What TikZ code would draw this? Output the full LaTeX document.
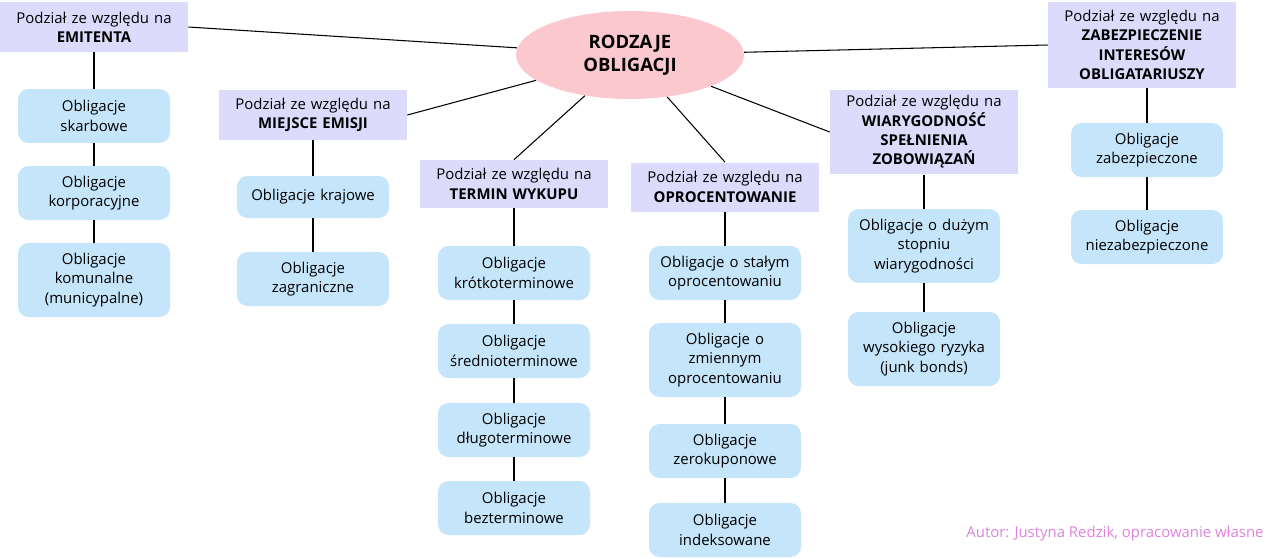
\documentclass[tikz,border=0pt]{standalone}
\usepackage{fontspec}
\setmainfont{Open Sans}
\usetikzlibrary{positioning,shapes.geometric}
\definecolor{headlav}{RGB}{221,219,252}
\definecolor{childblue}{RGB}{197,229,250}
\definecolor{rootpink}{RGB}{251,200,206}
\definecolor{authorpink}{RGB}{222,130,222}
\tikzset{
  head/.style={fill=headlav, minimum width=3.76cm, text width=3.6cm, align=center, inner sep=2pt, font=\fontsize{8.5}{11}\selectfont},
  child/.style={fill=childblue, rounded corners=6pt, minimum width=3.04cm, text width=2.9cm, align=center, inner sep=2pt, font=\fontsize{8.5}{11}\selectfont},
  link/.style={line width=0.6pt}
}
\begin{document}
\begin{tikzpicture}[x=0.02cm, y=-0.02cm]
\useasboundingbox (0,0) rectangle (1280,558);
\node (root) [ellipse, fill=rootpink, minimum width=4.56cm, minimum height=1.76cm, align=center, font=\bfseries\fontsize{10.5}{13}\selectfont] at (630,55) {RODZAJE\\OBLIGACJI};
% naglowki
\node (emi) [head, minimum height=1cm] at (94,27) {Podział ze względu na\\\textbf{EMITENTA}};
\node (mie) [head, minimum height=1cm] at (313,115) {Podział ze względu na\\\textbf{MIEJSCE EMISJI}};
\node (ter) [head, minimum height=0.96cm] at (514,184) {Podział ze względu na\\\textbf{TERMIN WYKUPU}};
\node (opr) [head, minimum height=0.98cm] at (725,187) {Podział ze względu na\\\textbf{OPROCENTOWANIE}};
\node (wia) [head, minimum height=1.7cm] at (924,132) {Podział ze względu na\\\textbf{WIARYGODNOŚĆ\\SPEŁNIENIA\\ZOBOWIĄZAŃ}};
\node (zab) [head, minimum height=1.72cm] at (1142,45) {Podział ze względu na\\\textbf{ZABEZPIECZENIE\\INTERESÓW\\OBLIGATARIUSZY}};
% emitent
\node (e1) [child, minimum height=1.08cm] at (94,116) {Obligacje\\skarbowe};
\node (e2) [child, minimum height=1.08cm] at (94,193) {Obligacje\\korporacyjne};
\node (e3) [child, minimum height=1.48cm] at (94,280) {Obligacje\\komunalne\\(municypalne)};
% miejsce
\node (m1) [child, minimum height=0.84cm] at (313,197) {Obligacje krajowe};
\node (m2) [child, minimum height=1.08cm] at (313,279) {Obligacje\\zagraniczne};
% termin
\node (t1) [child, minimum height=1.08cm] at (514,273) {Obligacje\\krótkoterminowe};
\node (t2) [child, minimum height=1.08cm] at (514,351) {Obligacje\\średnioterminowe};
\node (t3) [child, minimum height=1.08cm] at (514,430) {Obligacje\\długoterminowe};
\node (t4) [child, minimum height=1.08cm] at (514,508) {Obligacje\\bezterminowe};
% oprocentowanie
\node (o1) [child, minimum height=1.08cm] at (725,273) {Obligacje o stałym\\oprocentowaniu};
\node (o2) [child, minimum height=1.48cm] at (725,360) {Obligacje o\\zmiennym\\oprocentowaniu};
\node (o3) [child, minimum height=1.08cm] at (725,451) {Obligacje\\zerokuponowe};
\node (o4) [child, minimum height=1.08cm] at (725,530) {Obligacje\\indeksowane};
% wiarygodnosc
\node (w1) [child, minimum height=1.48cm] at (924,246) {Obligacje o dużym\\stopniu\\wiarygodności};
\node (w2) [child, minimum height=1.48cm] at (924,349) {Obligacje\\wysokiego ryzyka\\(junk bonds)};
% zabezpieczenie
\node (z1) [child, minimum height=1.08cm] at (1147,150) {Obligacje\\zabezpieczone};
\node (z2) [child, minimum height=1.08cm] at (1147,237) {Obligacje\\niezabezpieczone};
\node (aut) [text=authorpink, font=\fontsize{8.5}{10}\selectfont] at (1115,534) {Autor: Justyna Redzik, opracowanie własne};
% polaczenia
\draw[link] (root) -- (emi.east);
\draw[link] (root) -- (mie.east);
\draw[link] (root) -- (ter.north);
\draw[link] (root) -- (opr.north);
\draw[link] (root) -- (wia.west);
\draw[link] (root) -- (zab.west);
\draw[link] (emi) -- (e1);
\draw[link] (e1) -- (e2);
\draw[link] (e2) -- (e3);
\draw[link] (mie) -- (m1);
\draw[link] (m1) -- (m2);
\draw[link] (ter) -- (t1);
\draw[link] (t1) -- (t2);
\draw[link] (t2) -- (t3);
\draw[link] (t3) -- (t4);
\draw[link] (opr) -- (o1);
\draw[link] (o1) -- (o2);
\draw[link] (o2) -- (o3);
\draw[link] (o3) -- (o4);
\draw[link] (wia) -- (w1);
\draw[link] (w1) -- (w2);
\draw[link] (zab.south -| z1) -- (z1);
\draw[link] (z1) -- (z2);
\end{tikzpicture}
\end{document}
